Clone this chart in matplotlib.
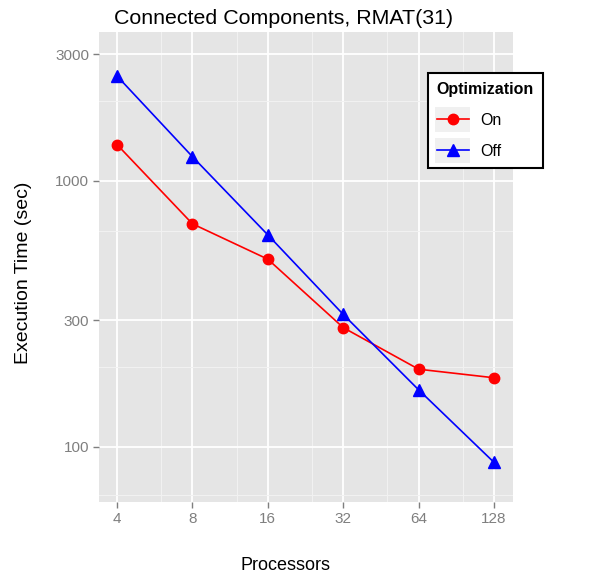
import numpy as np
import matplotlib
matplotlib.use("Agg")
import matplotlib.pyplot as plt
from matplotlib.ticker import FixedLocator, NullFormatter
from matplotlib.patches import Rectangle
from matplotlib.legend_handler import HandlerLine2D

# data
processors = [4, 8, 16, 32, 64, 128]
time_on = [1370, 690, 508, 281, 196, 182]
time_off = [2480, 1234, 627, 315, 164, 87.5]

x_ticks = [4, 8, 16, 32, 64, 128]
x_minor = [6, 12, 24, 48, 96]
y_ticks = [100, 300, 1000, 3000]
y_minor = [66, 200, 650, 2000]

plt.rcParams["font.family"] = ["Liberation Sans", "DejaVu Sans"]


class KeyHandler(HandlerLine2D):
    # ggplot-like legend key: grey square behind the line + marker
    def create_artists(self, legend, orig_handle, xdescent, ydescent,
                       width, height, fontsize, trans):
        bg = Rectangle((-xdescent - 1, -ydescent - 5), width + 2, height + 10,
                       facecolor="#F0F0F0", edgecolor="none", transform=trans)
        arts = super().create_artists(legend, orig_handle, xdescent, ydescent,
                                      width, height, fontsize, trans)
        return [bg] + list(arts)


fig = plt.figure(figsize=(6.01, 5.79), dpi=100)
ax = fig.add_axes([99 / 601, 1 - 502 / 579, 414 / 601, 470 / 579])
ax.set_facecolor("#E5E5E5")

ax.set_xscale("log", base=2)
ax.set_yscale("log")
ax.set_xlim(2 ** 1.761, 2 ** 7.252)
ax.set_ylim(10 ** 1.793, 10 ** 3.560)

ax.xaxis.set_major_locator(FixedLocator(x_ticks))
ax.xaxis.set_minor_locator(FixedLocator(x_minor))
ax.yaxis.set_major_locator(FixedLocator(y_ticks))
ax.yaxis.set_minor_locator(FixedLocator(y_minor))
ax.set_xticklabels([str(v) for v in x_ticks])
ax.set_yticklabels([str(v) for v in y_ticks])
ax.xaxis.set_minor_formatter(NullFormatter())
ax.yaxis.set_minor_formatter(NullFormatter())

ax.grid(which="major", color="white", linewidth=1.3)
ax.grid(which="minor", color="#F2F2F2", linewidth=0.7)
ax.set_axisbelow(True)
for s in ax.spines.values():
    s.set_visible(False)

ax.tick_params(which="major", direction="out", length=4, width=1.0,
               color="#7F7F7F", labelcolor="#7F7F7F", labelsize=11, pad=3)
ax.tick_params(which="minor", length=0)

ax.plot(processors, time_on, color="#FF0000", linewidth=1.2, marker="o",
        markersize=7.5, label="On")
ax.plot(processors, time_off, color="#0000FF", linewidth=1.2, marker="^",
        markersize=9, label="Off")

fig.text(24 / 601, 1 - 273 / 579, "Execution Time (sec)", fontsize=14,
         rotation=90, ha="center", va="center")
fig.text(285 / 601, 1 - 566 / 579, "Processors", fontsize=13,
         ha="center", va="center")
fig.text(284 / 601, 1 - 18 / 579, "Connected Components, RMAT(31)",
         fontsize=15.4, ha="center", va="center")

leg = ax.legend(title="Optimization", loc="upper left",
                bbox_to_anchor=(428 / 601, 1 - 73 / 579),
                bbox_transform=fig.transFigure, borderaxespad=0,
                fontsize=11.5,
                title_fontproperties={"weight": "bold", "size": 11.5},
                frameon=True, fancybox=False, edgecolor="black",
                facecolor="white", framealpha=1, handlelength=2.0,
                borderpad=0.55, labelspacing=1.0, handletextpad=0.7,
                handler_map={plt.Line2D: KeyHandler()})
leg.get_frame().set_linewidth(1.5)
leg._legend_box.align = "left"

fig.savefig("out.png", dpi=100, facecolor="white")
